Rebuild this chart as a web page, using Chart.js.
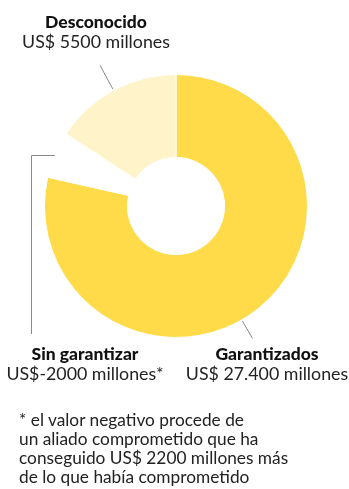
<!DOCTYPE html>
<html>
<head>
<meta charset="utf-8">
<script src="https://cdn.jsdelivr.net/npm/chart.js@4.4.1/dist/chart.umd.min.js"></script>
<style>
  html, body { margin: 0; padding: 0; background: #fff; }
  #wrap { position: relative; width: 349px; height: 489px; overflow: hidden; }
  #chart { position: absolute; left: 0; top: 0; }
  #note {
    position: absolute; left: 19px; top: 410px; width: 330px;
    font-family: Lato, "Noto Sans", sans-serif; font-size: 17.3px; line-height: 19px;
    color: #222;
  }
</style>
</head>
<body>
<div id="wrap">
  <canvas id="chart" width="349" height="489"></canvas>
  <div id="note">* el valor negativo procede de<br>un aliado comprometido que ha<br>conseguido US$ 2200 millones más<br>de lo que había comprometido</div>
</div>
<script>
const categories = ['Garantizados', 'Sin garantizar', 'Desconocido'];
const values = [27400, -2000, 5500];
const valueLabels = ['US$ 27.400 millones', 'US$-2000 millones*', 'US$ 5500 millones'];
const sliceColors = ['#FFDB4A', 'rgba(255,255,255,0)', '#FFF3C9'];

// label placement per slice (text centre x, bold line y, leader style)
const labelPos = [
  { x: 267, y: 354, leader: 'radial', angle: 150, r1: 133, r2: 153 },
  { x: 85, y: 354, leader: 'elbow', lineX: 31, lineBottom: 334 },
  { x: 96, y: 22, leader: 'radial', angle: null, r1: 133, r2: 160 }
];

const labelsPlugin = {
  id: 'sliceLabels',
  afterDraw(chart) {
    const ctx = chart.ctx;
    const arcs = chart.getDatasetMeta(0).data;
    ctx.save();
    ctx.strokeStyle = '#8a8a8a';
    ctx.lineWidth = 1;
    arcs.forEach((arc, i) => {
      const p = labelPos[i];
      const cx = arc.x, cy = arc.y, R = arc.outerRadius;
      const mid = (arc.startAngle + arc.endAngle) / 2;
      ctx.beginPath();
      if (p.leader === 'radial') {
        const a = p.angle === null ? mid : (p.angle - 90) * Math.PI / 180;
        ctx.moveTo(cx + Math.cos(a) * p.r1, cy + Math.sin(a) * p.r1);
        ctx.lineTo(cx + Math.cos(a) * p.r2, cy + Math.sin(a) * p.r2);
      } else {
        const sx = cx + Math.cos(mid) * R, sy = Math.round(cy + Math.sin(mid) * R) + 0.5;
        ctx.moveTo(sx, sy);
        ctx.lineTo(p.lineX + 0.5, sy);
        ctx.lineTo(p.lineX + 0.5, p.lineBottom);
      }
      ctx.stroke();

      ctx.textAlign = 'center';
      ctx.textBaseline = 'middle';
      ctx.fillStyle = '#111';
      ctx.font = '900 17.5px Lato, "Noto Sans", sans-serif';
      ctx.fillText(categories[i], p.x, p.y);
      ctx.fillStyle = '#222';
      ctx.font = '400 17.8px Lato, "Noto Sans", sans-serif';
      ctx.fillText(valueLabels[i], p.x, p.y + 20);
    });
    ctx.restore();
  }
};

new Chart(document.getElementById('chart'), {
  type: 'doughnut',
  data: {
    labels: categories,
    datasets: [{
      data: values.map(v => Math.abs(v)),
      backgroundColor: sliceColors,
      borderColor: '#ffffff',
      borderWidth: 1,
      hoverOffset: 0
    }]
  },
  options: {
    responsive: false,
    animation: false,
    cutout: '37%',
    layout: { padding: { left: 44, right: 41, top: 74, bottom: 151 } },
    plugins: { legend: { display: false }, tooltip: { enabled: false } }
  },
  plugins: [labelsPlugin]
});
</script>
</body>
</html>
